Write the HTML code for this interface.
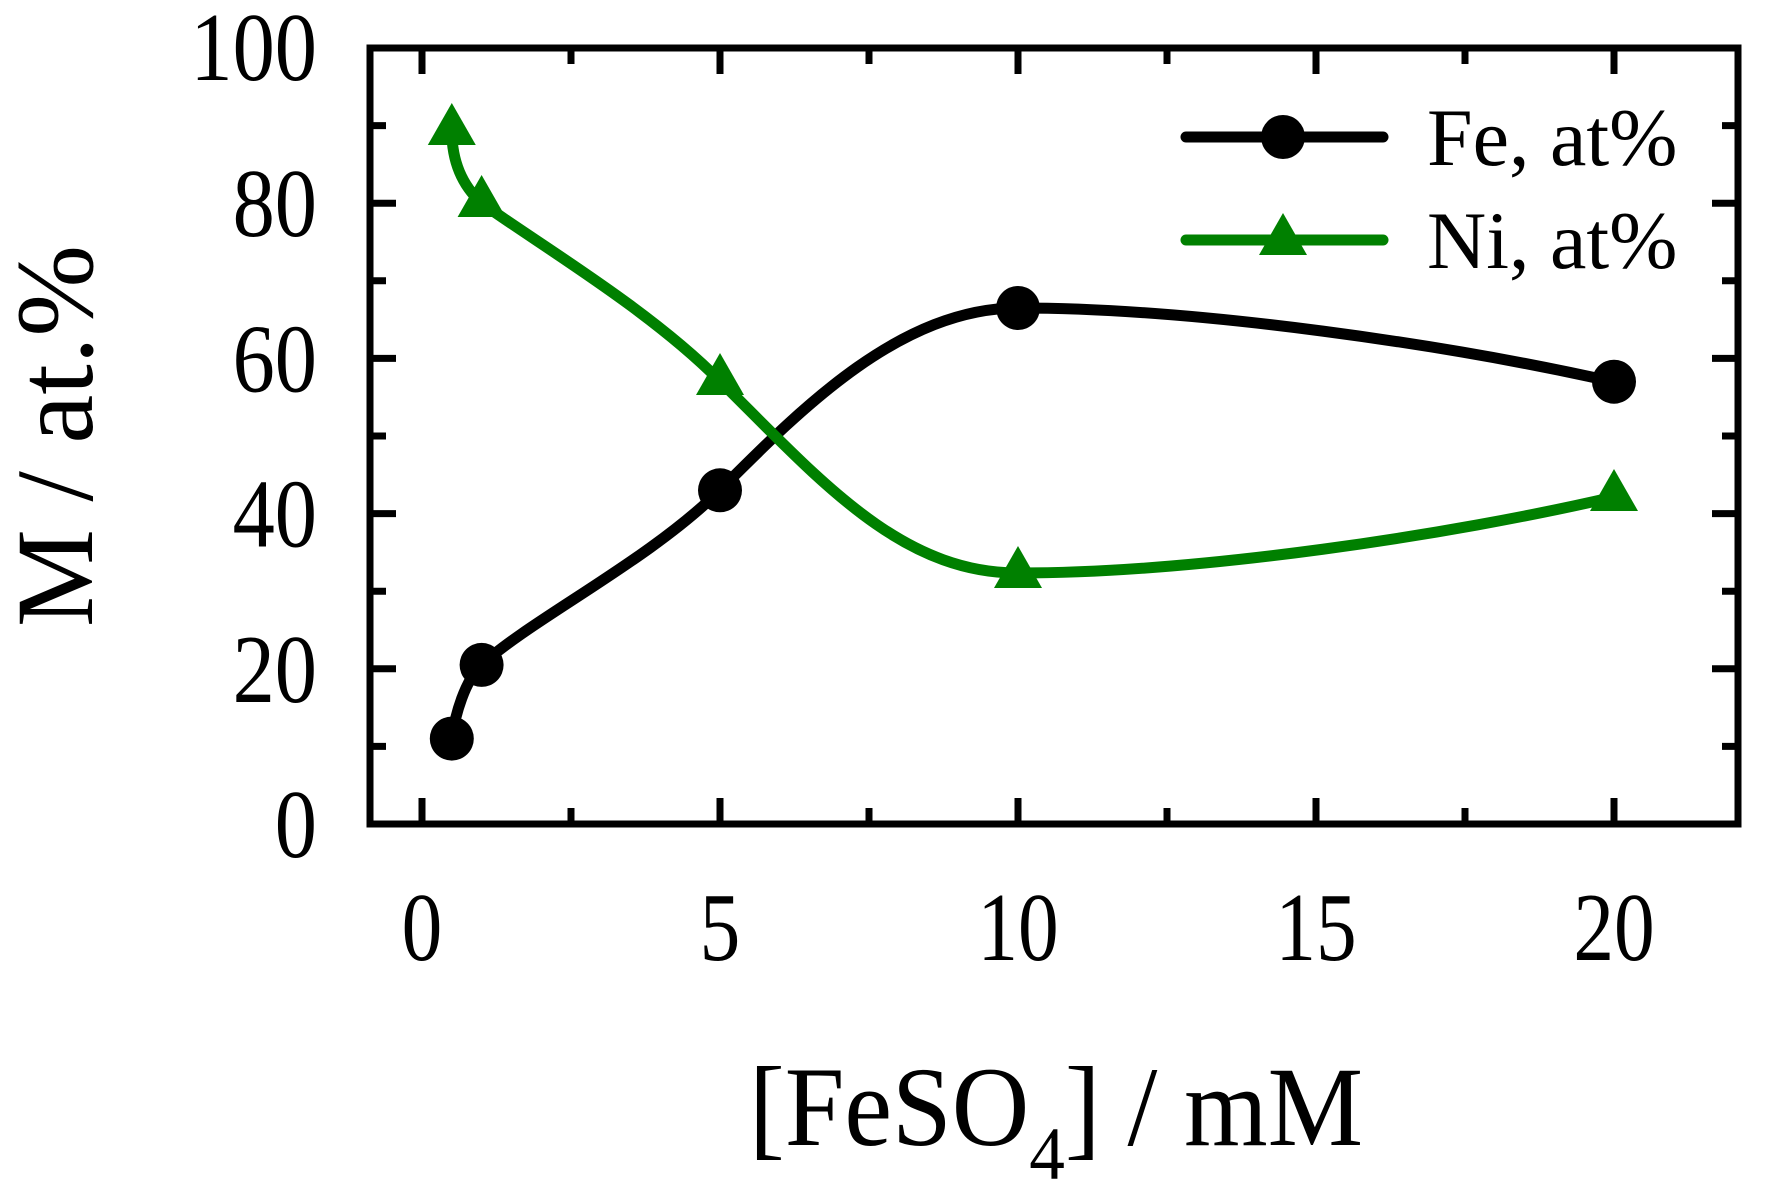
<!DOCTYPE html>
<html><head><meta charset="utf-8"><style>html,body{margin:0;padding:0;background:#fff}svg{display:block}</style></head>
<body>
<svg width="1773" height="1203" viewBox="0 0 1773 1203" xmlns="http://www.w3.org/2000/svg" font-family="Liberation Serif, serif">
<rect width="1773" height="1203" fill="#fff"/>
<g stroke="#000" stroke-width="7" fill="none">
<rect x="370" y="48" width="1368" height="776"/>
<path d="M370,746.4h16M370,591.2h16M370,436h16M370,280.8h16M370,125.6h16
M370,668.8h26M370,513.6h26M370,358.4h26M370,203.2h26
M1738,746.4h-16M1738,591.2h-16M1738,436h-16M1738,280.8h-16M1738,125.6h-16
M1738,668.8h-26M1738,513.6h-26M1738,358.4h-26M1738,203.2h-26"/>
<path d="M422,824v-26M720,824v-26M1018,824v-26M1316,824v-26M1614,824v-26
M571,824v-16M869,824v-16M1167,824v-16M1465,824v-16
M422,48v26M720,48v26M1018,48v26M1316,48v26M1614,48v26
M571,48v16M869,48v16M1167,48v16M1465,48v16"/>
</g>
<path d="M451.8,738.6 C455,715 465,680 481.6,664.9 C530,620 650,560 720,490 C800,410 900,308 1018,308 C1200,308 1450,345 1614,382" stroke="#000" stroke-width="11" fill="none"/>
<path d="M451.8,131 C452,165 465,188 481.6,203 C540,245 650,310 720,381 C820,480 900,573 1018,573 C1200,573 1450,535 1614,497" stroke="#008000" stroke-width="11" fill="none"/>
<g fill="#000">
<circle cx="451.8" cy="738.6" r="22"/><circle cx="481.6" cy="664.9" r="22"/><circle cx="720" cy="490.3" r="22"/><circle cx="1018" cy="308" r="22"/><circle cx="1614" cy="381.7" r="22"/>
</g>
<g fill="#008000">
<path d="M451.8,103 l24,42 h-48z"/><path d="M481.6,175 l24,42 h-48z"/><path d="M720,353 l24,42 h-48z"/><path d="M1018,546 l24,42 h-48z"/><path d="M1614,469 l24,42 h-48z"/>
</g>
<path d="M1186,137H1383" stroke="#000" stroke-width="11" stroke-linecap="round"/>
<circle cx="1283" cy="137" r="22" fill="#000"/>
<path d="M1186,240H1383" stroke="#008000" stroke-width="11" stroke-linecap="round"/>
<path d="M1283,213 l24,42 h-48z" fill="#008000"/>
<text x="1427" y="165" font-size="82">Fe, at%</text>
<text x="1427" y="268" font-size="82">Ni, at%</text>
<g font-size="97" text-anchor="end">
<text transform="translate(317,857) scale(0.87,1)">0</text>
<text transform="translate(317,701.8) scale(0.87,1)">20</text>
<text transform="translate(317,546.6) scale(0.87,1)">40</text>
<text transform="translate(317,391.4) scale(0.87,1)">60</text>
<text transform="translate(317,236.2) scale(0.87,1)">80</text>
<text transform="translate(317,80) scale(0.87,1)">100</text>
</g>
<g font-size="98" text-anchor="middle">
<text transform="translate(422,960) scale(0.83,1)">0</text>
<text transform="translate(720,960) scale(0.83,1)">5</text>
<text transform="translate(1018,960) scale(0.83,1)">10</text>
<text transform="translate(1316,960) scale(0.83,1)">15</text>
<text transform="translate(1614,960) scale(0.83,1)">20</text>
</g>
<text transform="translate(92,436) rotate(-90)" font-size="110" text-anchor="middle">M / at.%</text>
<text transform="translate(1056,1145) scale(0.95,1)" font-size="113" text-anchor="middle">[FeSO<tspan font-size="75" dy="34">4</tspan><tspan dy="-34">] / mM</tspan></text>
</svg>
</body></html>
